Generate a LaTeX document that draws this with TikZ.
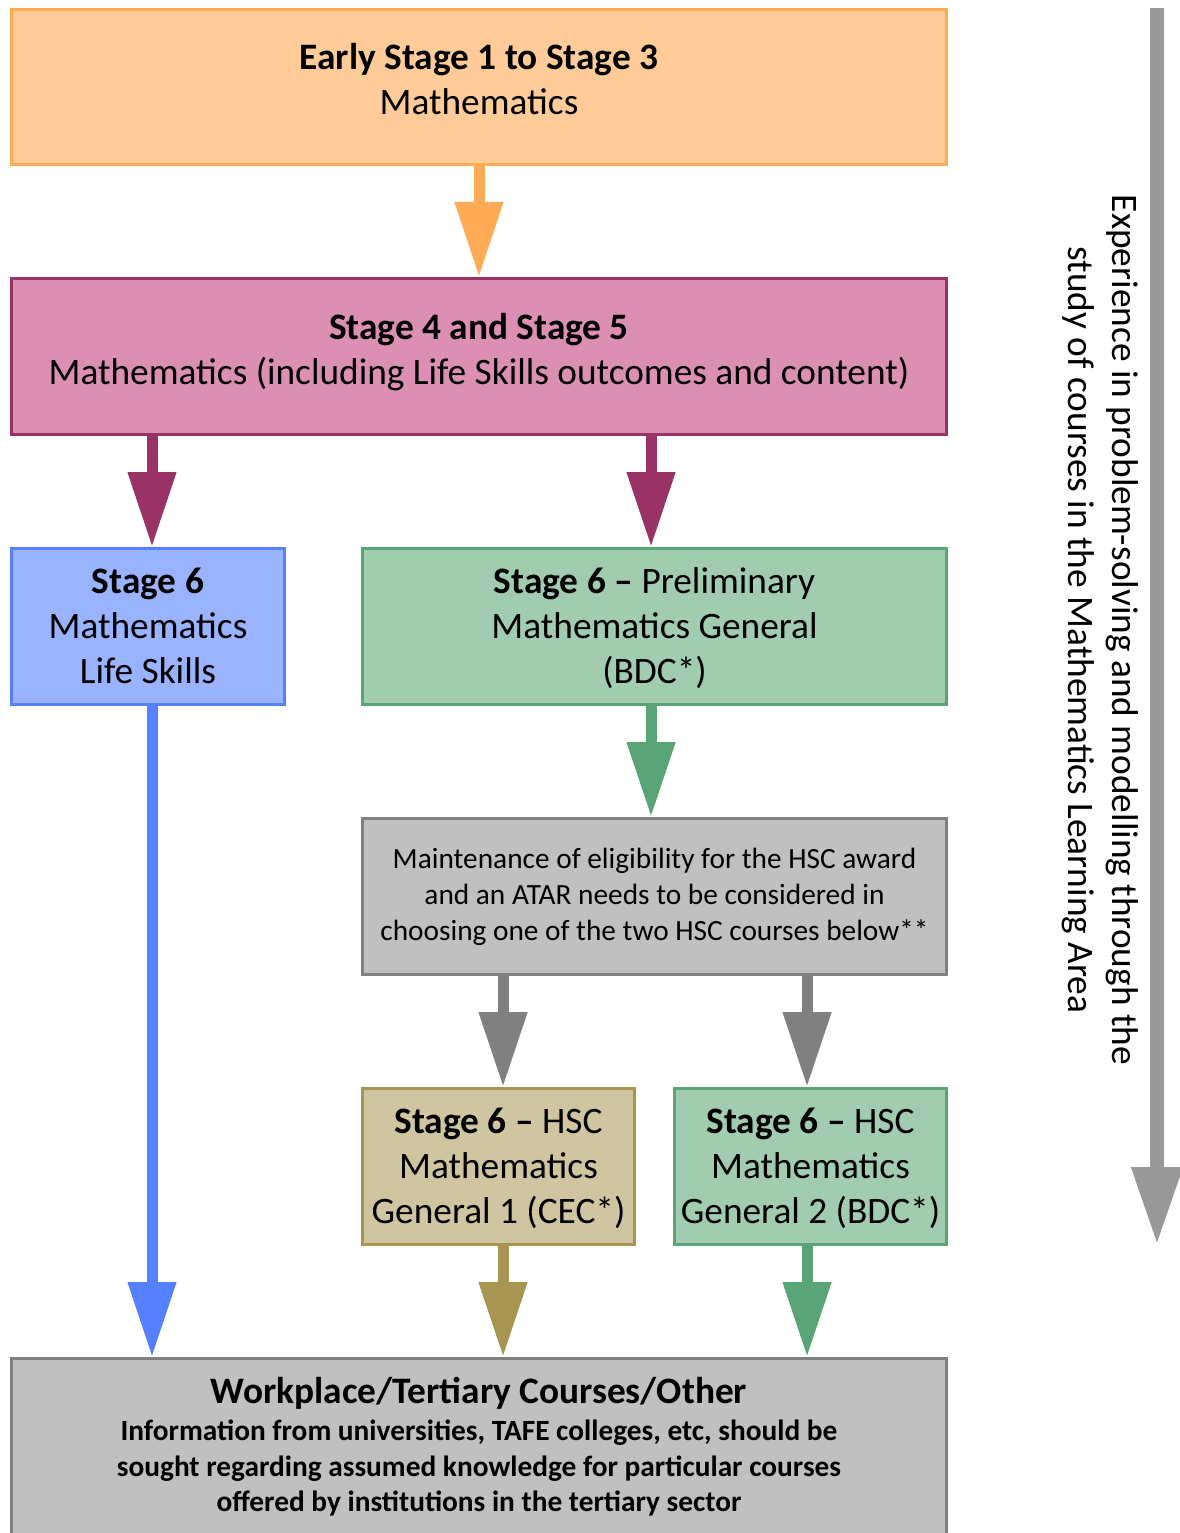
\documentclass[tikz,border=0pt]{standalone}
\usepackage{fontspec}
\setmainfont{Carlito}
\usetikzlibrary{arrows.meta}
\def\px{0.75pt}
\newcommand{\topstrut}{\rule{0pt}{24pt}}
\newcommand{\botstrut}[1]{\rule[-#1]{0pt}{#1}}
\definecolor{orangefill}{HTML}{FFCC99}
\definecolor{orangeline}{HTML}{FFAA55}
\definecolor{pinkfill}{HTML}{DB8FB3}
\definecolor{pinkline}{HTML}{993366}
\definecolor{bluefill}{HTML}{99B3FF}
\definecolor{blueline}{HTML}{5580FF}
\definecolor{greenfill}{HTML}{A1CCB0}
\definecolor{greenline}{HTML}{5AA577}
\definecolor{grayfill}{HTML}{C0C0C0}
\definecolor{grayline}{HTML}{808080}
\definecolor{tanfill}{HTML}{CFC6A1}
\definecolor{tanline}{HTML}{A89552}
\definecolor{sidegray}{HTML}{999999}

\tikzset{
  stagebox/.style={
    draw, line width=3*\px, align=center, inner sep=0pt,
    font=\fontsize{28}{33.75}\selectfont
  },
  flowarrow/.style={
    line width=11*\px, -{Triangle[width=34.5pt, length=56.25pt]}
  }
}

\begin{document}
\begin{tikzpicture}[x=\px, y=-\px]
  \useasboundingbox (0,0) rectangle (1179,1533);

  % boxes
  \node[stagebox, fill=orangefill, draw=orangeline, minimum width=935*\px, minimum height=155*\px]
    (early) at (479,87) {\topstrut\textbf{Early Stage 1 to Stage 3}\\Mathematics\botstrut{16.5pt}};
  \node[stagebox, fill=pinkfill, draw=pinkline, minimum width=935*\px, minimum height=156*\px]
    (middle) at (479,356.5) {\topstrut\textbf{Stage 4 and Stage 5}\\Mathematics (including Life Skills outcomes and content)\botstrut{16pt}};
  \node[stagebox, fill=bluefill, draw=blueline, minimum width=273*\px, minimum height=156*\px]
    (lifeskills) at (148,626.5) {\topstrut\textbf{Stage 6}\\Mathematics\\Life Skills\botstrut{6pt}};
  \node[stagebox, fill=greenfill, draw=greenline, minimum width=584*\px, minimum height=156*\px]
    (prelim) at (654.5,626.5) {\topstrut\textbf{Stage 6 –} Preliminary\\Mathematics General\\(BDC*)\botstrut{6pt}};
  \node[stagebox, fill=grayfill, draw=grayline, minimum width=584*\px, minimum height=156*\px,
    font=\fontsize{22}{27}\selectfont]
    (choice) at (654.5,896.5) {Maintenance of eligibility for the HSC award\\and an ATAR needs to be considered in\\choosing one of the two HSC courses below**};
  \node[stagebox, fill=tanfill, draw=tanline, minimum width=272*\px, minimum height=156*\px]
    (generalA) at (498.5,1166.5) {\topstrut\textbf{Stage 6 –} HSC\\Mathematics\\General 1 (CEC*)\botstrut{6pt}};
  \node[stagebox, fill=greenfill, draw=greenline, minimum width=272*\px, minimum height=156*\px]
    (generalB) at (810.5,1166.5) {\topstrut\textbf{Stage 6 –} HSC\\Mathematics\\General 2 (BDC*)\botstrut{6pt}};
  \node[stagebox, fill=grayfill, draw=grayline, minimum width=935*\px, minimum height=200*\px,
    font=\fontsize{22}{26.6}\selectfont\bfseries]
    (tertiary) at (479,1458.5) {\topstrut{\fontsize{28}{30}\selectfont Workplace/Tertiary Courses/Other}\\[1.15pt]
      Information from universities, TAFE colleges, etc, should be\\
      sought regarding assumed knowledge for particular courses\\
      offered by institutions in the tertiary sector\botstrut{25.5pt}};

  % arrow ends
  \coordinate (lifeskillsin) at ([xshift=3pt]lifeskills.north);
  \coordinate (lifeskillsout) at ([xshift=3pt]lifeskills.south);
  \coordinate (prelimin) at ([xshift=-2.6pt]prelim.north);
  \coordinate (prelimout) at ([xshift=-2.6pt]prelim.south);
  \coordinate (generalAin) at ([xshift=3.4pt]generalA.north);
  \coordinate (generalAout) at ([xshift=3.4pt]generalA.south);
  \coordinate (generalBin) at ([xshift=-2.6pt]generalB.north);
  \coordinate (generalBout) at ([xshift=-2.6pt]generalB.south);

  % arrows
  \draw[flowarrow, orangeline] (early) -- (middle);
  \draw[flowarrow, pinkline] (middle.south -| lifeskillsin) -- (lifeskillsin);
  \draw[flowarrow, pinkline] (middle.south -| prelimin) -- (prelimin);
  \draw[flowarrow, greenline] (prelimout) -- (prelimout |- choice.north);
  \draw[flowarrow, grayline] (choice.south -| generalAin) -- (generalAin);
  \draw[flowarrow, grayline] (choice.south -| generalBin) -- (generalBin);
  \draw[flowarrow, blueline] (lifeskillsout) -- (lifeskillsout |- tertiary.north);
  \draw[flowarrow, tanline] (generalAout) -- (generalAout |- tertiary.north);
  \draw[flowarrow, greenline] (generalBout) -- (generalBout |- tertiary.north);

  % side arrow
  \coordinate (sidetop) at (1157,8);
  \coordinate (sidetip) at (1157,1245);
  \draw[sidegray, line width=14*\px, -{Triangle[width=36pt, length=58.5pt]}] (sidetop) -- (sidetip);
  \node[rotate=-90, align=center, font=\fontsize{28}{33}\selectfont]
    (sidetext) at (1100,630) {Experience in problem-solving and modelling through the\\study of courses in the Mathematics Learning Area};
\end{tikzpicture}
\end{document}
